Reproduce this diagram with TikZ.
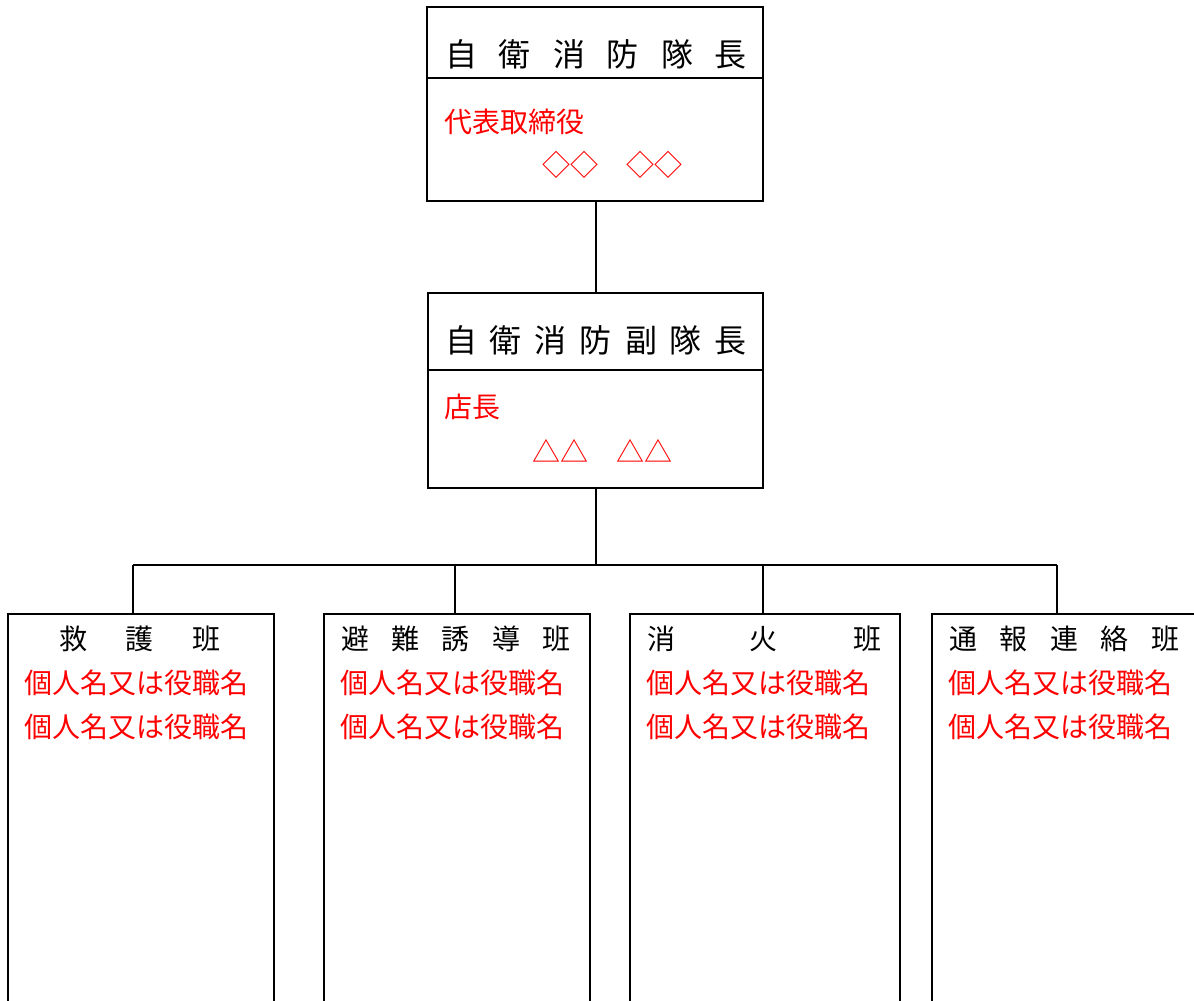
\documentclass[tikz,border=0pt]{standalone}
\usepackage{fontspec}
\setmainfont{Noto Sans CJK JP}
\definecolor{redtxt}{RGB}{255,0,0}
\begin{document}
\begin{tikzpicture}[x=1pt,y=-1pt,
  boxline/.style={draw=black,line width=1.6pt},
  bigbox/.style={boxline,rectangle,inner sep=0pt},
  conn/.style={draw=black,line width=1.6pt},
  titletxt/.style={inner sep=0pt,font=\fontsize{32}{36}\selectfont},
  grouptitle/.style={inner sep=0pt,font=\fontsize{28}{32}\selectfont},
  redline/.style={inner sep=0pt,anchor=west,text=redtxt,font=\fontsize{28}{32}\selectfont},
]
\useasboundingbox (0,0) rectangle (1194,1001);
\clip (0,0) rectangle (1194,1001);
\fill[white] (0,0) rectangle (1194,1001);

% top box
\node[bigbox,minimum width=336pt,minimum height=194pt] (top) at (595,104) {};
\draw[boxline] (top.west |- 0,78) -- (top.east |- 0,78);
\node[titletxt] (toptitle) at (596,54) {\makebox[302pt][s]{自\hfill 衛\hfill 消\hfill 防\hfill 隊\hfill 長}};
\node[redline] (toprole) at (444,122) {代表取締役};
\node[redline] (topname) at (542,165) {◇◇　◇◇};

% sub box
\node[bigbox,minimum width=335pt,minimum height=195pt] (sub) at (595.5,390.5) {};
\draw[boxline] (sub.west |- 0,370) -- (sub.east |- 0,370);
\node[titletxt] (subtitle) at (596,340) {\makebox[302pt][s]{自\hfill 衛\hfill 消\hfill 防\hfill 副\hfill 隊\hfill 長}};
\node[redline] (subrole) at (444,407) {店長};
\node[redline] (subname) at (532,451) {△△　△△};

% group boxes (open at the bottom, clipped)
\node[bigbox,minimum width=266pt,minimum height=420pt,anchor=north west] (b1) at (7,613) {};
\node[bigbox,minimum width=266pt,minimum height=420pt,anchor=north west] (b2) at (323,613) {};
\node[bigbox,minimum width=270pt,minimum height=420pt,anchor=north west] (b3) at (629,613) {};
\node[bigbox,minimum width=300pt,minimum height=420pt,anchor=north west] (b4) at (931,613) {};

\node[grouptitle] (t1) at (140,639) {\makebox[162pt][s]{救\hfill 護\hfill 班}};
\node[grouptitle] (t2) at (456,639) {\makebox[230pt][s]{避\hfill 難\hfill 誘\hfill 導\hfill 班}};
\node[grouptitle] (t3) at (764,639) {\makebox[234pt][s]{消\hfill 火\hfill 班}};
\node[grouptitle] (t4) at (1064,639) {\makebox[230pt][s]{通\hfill 報\hfill 連\hfill 絡\hfill 班}};

\foreach \n/\x in {1/24,2/340,3/646,4/948}{
  \node[redline] (r\n a) at (\x,683) {個人名又は役職名};
  \node[redline] (r\n b) at (\x,727) {個人名又は役職名};
}

% connectors
\coordinate (j) at (596,565);
\coordinate (d1) at (133,565);
\coordinate (d2) at (455,565);
\coordinate (d3) at (763,565);
\coordinate (d4) at (1057,565);
\draw[conn] (top.south -| 596,0) -- (sub.north -| 596,0);
\draw[conn] (sub.south -| 596,0) -- (j);
\draw[conn] (d1) -- (d4);
\draw[conn] (d1) -- (d1 |- b1.north);
\draw[conn] (d2) -- (d2 |- b2.north);
\draw[conn] (d3) -- (d3 |- b3.north);
\draw[conn] (d4) -- (d4 |- b4.north);
\end{tikzpicture}
\end{document}
